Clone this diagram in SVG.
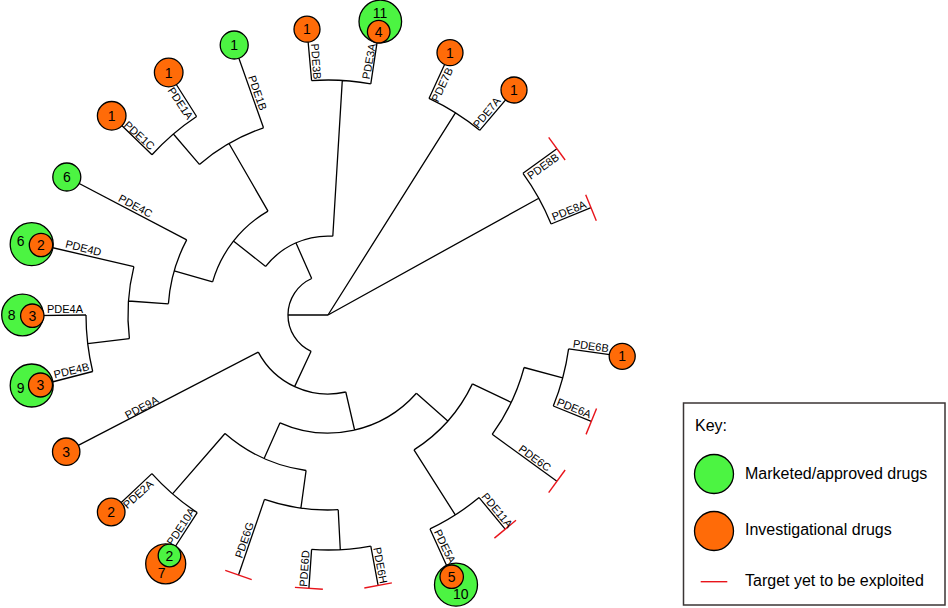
<svg xmlns="http://www.w3.org/2000/svg" width="948" height="608" viewBox="0 0 948 608">
<style>
.c{fill:none;stroke:#000;stroke-width:1.3}
.t{stroke:#e8141b;stroke-width:1.4}
.g{fill:#4cf442;stroke:#000;stroke-width:1.3}
.o{fill:#ff6b08;stroke:#000;stroke-width:1.3}
.l{font-family:"Liberation Sans",Arial,sans-serif;font-size:11px;fill:#000;text-anchor:middle}
.n{font-family:"Liberation Sans",Arial,sans-serif;font-size:14px;fill:#000;text-anchor:middle}
.k{font-family:"Liberation Sans",Arial,sans-serif;font-size:16px;fill:#000}
</style>
<rect width="948" height="608" fill="#fff"/>
<g id="connectors" class="c">
<path d="M328 315L288 315M311.1 351.3A40 40 0 0 1 311.7 278.5"/>
<path d="M311.7 278.5L295.9 242.8M265.7 266.4A79 79 0 0 1 332.8 236.2"/>
<path d="M265.7 266.4L233.4 241.1M212.6 281.9A120 120 0 0 1 268 211.1"/>
<path d="M268 211.1L229 143.5M199.4 164.4A198 198 0 0 1 263.5 127.8"/>
<path d="M199.4 164.4L173.4 134M152 154.8A238 238 0 0 1 196.6 116.5"/>
<path d="M152 154.8L111.7 115.8M196.6 116.5L168.7 72.5M263.5 127.8L234.2 45"/>
<path d="M212.6 281.9L174.2 270.9M168.4 303.8A160 160 0 0 1 186.7 239.9"/>
<path d="M186.7 239.9L66.8 177"/>
<path d="M168.4 303.8L128.5 301M129.4 338.7A200 200 0 0 1 133.9 266.6"/>
<path d="M133.9 266.6L41 245"/>
<path d="M129.4 338.7L87.7 343.7M92.7 371.5A242 242 0 0 1 86 315"/>
<path d="M86 315L32.3 315.7M92.7 371.5L40.5 385"/>
<path d="M332.8 236.2L342.3 80.4M311.6 80.6A235 235 0 0 1 370.8 83.9"/>
<path d="M311.6 80.6L307 29.2M370.8 83.9L378.7 31.7"/>
<path d="M311.1 351.3L294.6 386.6M345.8 392A79 79 0 0 1 258.3 352.1"/>
<path d="M258.3 352.1L66.2 451.7"/>
<path d="M345.8 392L354.6 430M416.4 393.2A118 118 0 0 1 280 422.8"/>
<path d="M280 422.8L264.1 458.4M306.1 470.5A157 157 0 0 1 225 433.5"/>
<path d="M225 433.5L172.5 493.9M197.2 512.6A237 237 0 0 1 151.9 473.6"/>
<path d="M151.9 473.6L111.2 512M197.2 512.6L169.5 555.5"/>
<path d="M306.1 470.5L300.9 508.1M338.2 509.7A195 195 0 0 1 264.5 499.4"/>
<path d="M264.5 499.4L238.5 575"/>
<path d="M338.2 509.7L340.3 549.7M370.8 546.1A235 235 0 0 1 311.6 549.4"/>
<path d="M311.6 549.4L308.9 588.3M370.8 546.1L378.1 585.4"/>
<path d="M416.4 393.2L447.8 421M472.4 383.9A160 160 0 0 1 414 449.9"/>
<path d="M414 449.9L455.3 514.9M479.1 497.6A237 237 0 0 1 430 528.9"/>
<path d="M430 528.9L451.7 576.7M479.1 497.6L505.2 529.2"/>
<path d="M472.4 383.9L511.2 402.4M524.1 367.5A203 203 0 0 1 492.2 434.3"/>
<path d="M492.2 434.3L556.9 481.3"/>
<path d="M524.1 367.5L562.7 377.9M568.6 348.8A243 243 0 0 1 553.3 406"/>
<path d="M553.3 406L591.3 421.4M568.6 348.8L622.2 356.3"/>
<path d="M328 315L455.4 112.8M429 98.4A239 239 0 0 1 479.7 130.3"/>
<path d="M429 98.4L450 52.7M479.7 130.3L514 90"/>
<path d="M328 315L538.8 198.2M523 173.3A241 241 0 0 1 551.1 224"/>
<path d="M523 173.3L556.9 148.7M551.1 224L591 207.7"/>
</g>
<g id="PDE1C"><circle class="o" cx="111.7" cy="115.8" r="14.3"/><text class="n" x="111.7" y="120.8">1</text><text class="l" transform="translate(135.4 139.8) rotate(42.3)" dy="-2">PDE1C</text></g>
<g id="PDE1A"><circle class="o" cx="168.7" cy="72.5" r="14.3"/><text class="n" x="168.7" y="77.5">1</text><text class="l" transform="translate(185.6 99.9) rotate(56.5)" dy="10">PDE1A</text></g>
<g id="PDE1B"><circle class="g" cx="234.2" cy="45" r="14"/><text class="n" x="234.2" y="50">1</text><text class="l" transform="translate(252.1 94.7) rotate(71)" dy="-2">PDE1B</text></g>
<g id="PDE3B"><circle class="o" cx="307" cy="29.2" r="13"/><text class="n" x="307" y="34.2">1</text><text class="l" transform="translate(310.3 61.8) rotate(86)" dy="-2">PDE3B</text></g>
<g id="PDE3A"><circle class="g" cx="380.3" cy="21.5" r="21.3"/><text class="n" x="380" y="18.3">11</text><circle class="o" cx="378.7" cy="31.7" r="11.3"/><text class="n" x="378.7" y="36.7">4</text><text class="l" transform="translate(374.8 62.4) rotate(-79.5)" dy="-2">PDE3A</text></g>
<g id="PDE7B"><circle class="o" cx="450" cy="52.7" r="13"/><text class="n" x="450" y="57.7">1</text><text class="l" transform="translate(436.6 82.1) rotate(-65)" dy="10">PDE7B</text></g>
<g id="PDE7A"><circle class="o" cx="514" cy="90" r="13"/><text class="n" x="514" y="95">1</text><text class="l" transform="translate(491.2 116.3) rotate(-50.6)" dy="-2">PDE7A</text></g>
<g id="PDE8B"><line class="t" x1="0" y1="-14" x2="0" y2="14" transform="translate(556.9 148.7) rotate(-36)"/><text class="l" transform="translate(539.5 161.4) rotate(-36)" dy="10">PDE8B</text></g>
<g id="PDE8A"><line class="t" x1="0" y1="-14" x2="0" y2="14" transform="translate(591 207.7) rotate(-22.2)"/><text class="l" transform="translate(571.2 215.8) rotate(-22.2)" dy="-2">PDE8A</text></g>
<g id="PDE6B"><circle class="o" cx="622.2" cy="356.3" r="13"/><text class="n" x="622.2" y="361.3">1</text><text class="l" transform="translate(590 351.8) rotate(8)" dy="-2">PDE6B</text></g>
<g id="PDE6A"><line class="t" x1="0" y1="-14" x2="0" y2="14" transform="translate(591.3 421.4) rotate(22)"/><text class="l" transform="translate(571.9 413.5) rotate(22)" dy="-2">PDE6A</text></g>
<g id="PDE6C"><line class="t" x1="0" y1="-14" x2="0" y2="14" transform="translate(556.9 481.3) rotate(36)"/><text class="l" transform="translate(531.4 462.8) rotate(36)" dy="-2">PDE6C</text></g>
<g id="PDE11A"><line class="t" x1="0" y1="-14" x2="0" y2="14" transform="translate(505.2 529.2) rotate(50.4)"/><text class="l" transform="translate(492.6 513.9) rotate(50.4)" dy="-2">PDE11A</text></g>
<g id="PDE5A"><circle class="g" cx="456" cy="584.7" r="21.5"/><text class="n" x="460.8" y="599.3">10</text><circle class="o" cx="451.7" cy="576.7" r="11.7"/><text class="n" x="451.7" y="581.7">5</text><text class="l" transform="translate(439.6 549) rotate(64.5)" dy="-2">PDE5A</text></g>
<g id="PDE6H"><line class="t" x1="0" y1="-14" x2="0" y2="14" transform="translate(378.1 585.4) rotate(79.5)"/><text class="l" transform="translate(374.6 566.4) rotate(79.5)" dy="-2">PDE6H</text></g>
<g id="PDE6D"><line class="t" x1="0" y1="-14" x2="0" y2="14" transform="translate(308.9 588.3) rotate(94)"/><text class="l" transform="translate(310.2 568.9) rotate(-86)" dy="-2">PDE6D</text></g>
<g id="PDE6G"><line class="t" x1="0" y1="-14" x2="0" y2="14" transform="translate(238.5 575) rotate(109)"/><text class="l" transform="translate(249.9 541.9) rotate(-71)" dy="-2">PDE6G</text></g>
<g id="PDE10A"><circle class="o" cx="165.7" cy="563.8" r="20"/><text class="n" x="161.7" y="578.3">7</text><circle class="g" cx="169.5" cy="555.5" r="11.3"/><text class="n" x="169.5" y="560.5">2</text><text class="l" transform="translate(185.9 529.7) rotate(-56.5)" dy="-2">PDE10A</text></g>
<g id="PDE2A"><circle class="o" cx="111.2" cy="512" r="13.8"/><text class="n" x="111.2" y="517">2</text><text class="l" transform="translate(134 489.7) rotate(-42)" dy="10">PDE2A</text></g>
<g id="PDE9A"><circle class="o" cx="66.2" cy="451.7" r="13.7"/><text class="n" x="66.2" y="456.7">3</text><text class="l" transform="translate(144.4 412.6) rotate(-28)" dy="-2">PDE9A</text></g>
<g id="PDE4B"><circle class="g" cx="31.7" cy="385.5" r="21.5"/><text class="n" x="20.7" y="392.5">9</text><circle class="o" cx="40.5" cy="385" r="12"/><text class="n" x="40.5" y="390">3</text><text class="l" transform="translate(72.8 376.2) rotate(-13.5)" dy="-2">PDE4B</text></g>
<g id="PDE4A"><circle class="g" cx="22.5" cy="315" r="20.8"/><text class="n" x="11.7" y="320.3">8</text><circle class="o" cx="32.3" cy="315.7" r="11.7"/><text class="n" x="32.3" y="320.7">3</text><text class="l" transform="translate(65 315)" dy="-2">PDE4A</text></g>
<g id="PDE4D"><circle class="g" cx="31.7" cy="244.2" r="21.5"/><text class="n" x="20.7" y="245.5">6</text><circle class="o" cx="41" cy="245" r="11.7"/><text class="n" x="41" y="250">2</text><text class="l" transform="translate(82 253.7) rotate(14)" dy="-2">PDE4D</text></g>
<g id="PDE4C"><circle class="g" cx="66.8" cy="177" r="14"/><text class="n" x="66.8" y="182">6</text><text class="l" transform="translate(132.7 211.1) rotate(28)" dy="-2">PDE4C</text></g>
<g id="key">
<rect x="683.5" y="403" width="261.5" height="202" fill="#fff" stroke="#3b3535" stroke-width="1.5"/>
<text class="k" x="695" y="431" font-size="19">Key:</text>
<circle class="g" cx="714" cy="474" r="19.5"/>
<text class="k" x="745" y="478.5">Marketed/approved drugs</text>
<circle class="o" cx="714" cy="531" r="19.5"/>
<text class="k" x="745" y="535">Investigational drugs</text>
<line class="t" x1="700.7" y1="581.7" x2="727.3" y2="581.7"/>
<text class="k" x="745" y="586">Target yet to be exploited</text>
</g>
</svg>
